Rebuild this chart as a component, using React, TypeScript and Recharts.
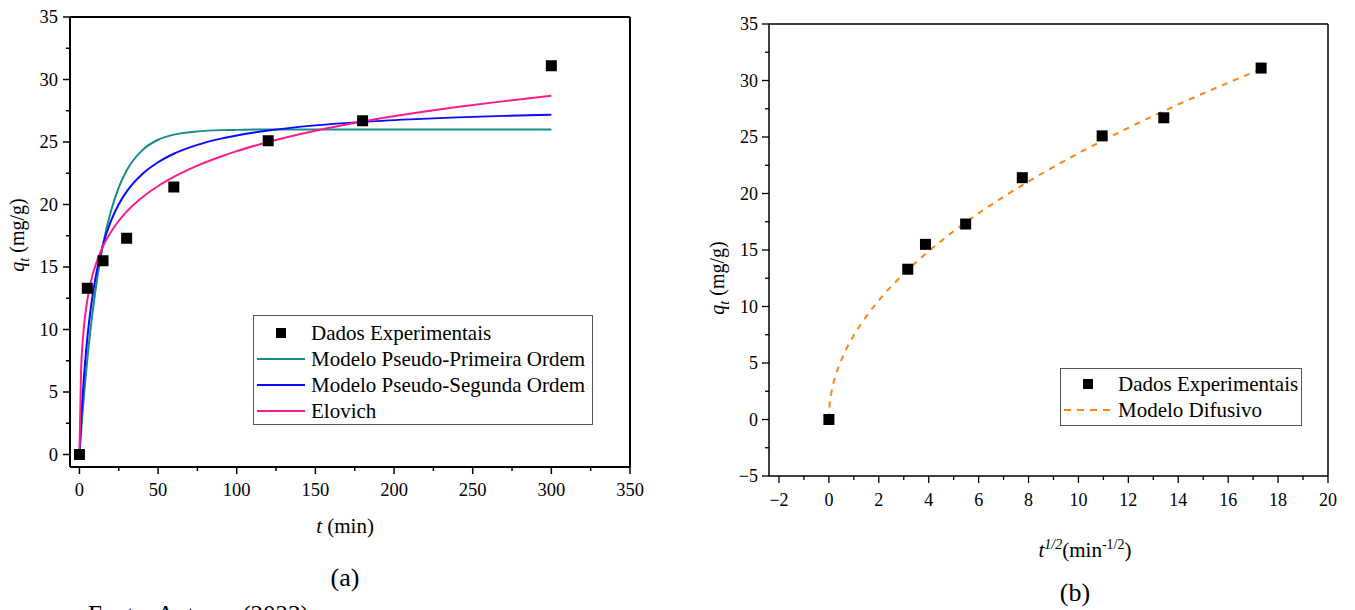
import React from 'react';
import {
  ComposedChart, Line, Scatter, XAxis, YAxis, ReferenceLine, Label
} from 'recharts';

// (a) kinetic data, t in minutes
const tMin = [0, 5, 15, 30, 60, 120, 180, 300];
const qtExp = [0, 13.3, 15.5, 17.3, 21.4, 25.1, 26.7, 31.1];

// fitted curves sampled along t
const tModel = [0, 1, 2, 3, 5, 7.5, 10, 15, 20, 25, 30, 40, 50, 60, 75, 90, 100, 120, 150, 180, 210, 240, 270, 300];
const qPseudo1 = [0, 1.73, 3.35, 4.87, 7.6, 10.5, 12.96, 16.8, 19.46, 21.37, 22.72, 24.35, 25.18, 25.59, 25.85, 25.95, 25.97, 26.0, 26.0, 26.0, 26.0, 26.0, 26.0, 26.0];
const qPseudo2 = [0, 2.53, 4.65, 6.44, 9.31, 11.98, 13.99, 16.8, 18.67, 20.02, 21.03, 22.44, 23.38, 24.06, 24.77, 25.27, 25.52, 25.92, 26.33, 26.61, 26.81, 26.97, 27.09, 27.19];
const qElovich = [0, 6.54, 8.92, 10.41, 12.35, 13.93, 15.05, 16.66, 17.8, 18.7, 19.43, 20.58, 21.48, 22.21, 23.11, 23.84, 24.27, 25.0, 25.9, 26.64, 27.26, 27.8, 28.27, 28.7];

// (b) intraparticle diffusion, t^1/2
const sqrtT = [0, 3.16, 3.87, 5.48, 7.75, 10.95, 13.42, 17.32];
const qtExpB = [0, 13.3, 15.5, 17.3, 21.4, 25.1, 26.7, 31.1];
const sqrtTModel = [0, 0.02, 0.1, 0.3, 0.6, 1, 1.5, 2, 3, 4, 5, 6, 8, 10, 12, 14, 16, 17.32];
const qDifusivo = [0, 1.05, 2.36, 4.08, 5.77, 7.45, 9.12, 10.54, 12.9, 14.9, 16.66, 18.25, 21.07, 23.56, 25.81, 27.88, 29.8, 31.0];

// axis ticks (majors get a label, the rest are minor)
const ticksXa = [0, 25, 50, 75, 100, 125, 150, 175, 200, 225, 250, 275, 300, 325, 350];
const ticksYa = [0, 2.5, 5, 7.5, 10, 12.5, 15, 17.5, 20, 22.5, 25, 27.5, 30, 32.5, 35];
const ticksXb = [-2, -1, 0, 1, 2, 3, 4, 5, 6, 7, 8, 9, 10, 11, 12, 13, 14, 15, 16, 17, 18, 19, 20];
const ticksYb = [-5, -2.5, 0, 2.5, 5, 7.5, 10, 12.5, 15, 17.5, 20, 22.5, 25, 27.5, 30, 32.5, 35];

const FONT = '"Liberation Serif", serif';
const C_PFO = '#178d87';
const C_PSO = '#0a0aff';
const C_ELO = '#ff1b8d';
const C_DIF = '#ff8410';

const toPts = (xs: number[], ys: number[]) => xs.map((t, i) => ({ t, q: ys[i] }));

const fmt = (v: number) => (v < 0 ? '\u2212' + Math.abs(v) : String(v));

const Square = (props: any) => {
  const { cx, cy } = props;
  if (cx == null || cy == null) return null;
  return <rect x={cx - 5.5} y={cy - 5.5} width={11} height={11} fill="#000" />;
};

const bottomTick = (step: number, offset: number, sw: number, fs: number) => (props: any) => {
  const { x, y, payload } = props;
  const major = Math.abs(payload.value / step - Math.round(payload.value / step)) < 1e-6;
  const len = major ? 7 : 4;
  return (
    <g>
      <line x1={x} y1={y} x2={x} y2={y + len} stroke="#000" strokeWidth={sw} />
      {major && (
        <text x={x} y={y + offset} dy="0.35em" textAnchor="middle" fontSize={fs} fontFamily={FONT} fill="#000">
          {fmt(payload.value)}
        </text>
      )}
    </g>
  );
};

const leftTick = (step: number, offset: number, sw: number, fs: number) => (props: any) => {
  const { x, y, payload } = props;
  const major = Math.abs(payload.value / step - Math.round(payload.value / step)) < 1e-6;
  const len = major ? 7 : 4;
  return (
    <g>
      <line x1={x} y1={y} x2={x - len} y2={y} stroke="#000" strokeWidth={sw} />
      {major && (
        <text x={x - offset} y={y} dy="0.35em" textAnchor="end" fontSize={fs} fontFamily={FONT} fill="#000">
          {fmt(payload.value)}
        </text>
      )}
    </g>
  );
};

const QtTitle = ({ x, y }: { x: number; y: number }) => (
  <text x={x} y={y} transform={`rotate(-90, ${x}, ${y})`} textAnchor="middle" fontSize={20} fontFamily={FONT} fill="#000">
    <tspan fontStyle="italic">q</tspan>
    <tspan fontStyle="italic" fontSize={14} dy={5}>t</tspan>
    <tspan dy={-5}> (mg/g)</tspan>
  </text>
);

const legendRow: React.CSSProperties = { display: 'flex', alignItems: 'center', height: 26, whiteSpace: 'nowrap' };

const LineSample = ({ color, dashed }: { color: string; dashed?: boolean }) => (
  <svg width={50} height={10} style={{ marginRight: 5 }}>
    <line x1={1} y1={5} x2={49} y2={5} stroke={color} strokeWidth={2} strokeDasharray={dashed ? '7 6' : undefined} />
  </svg>
);

const SquareSample = () => (
  <svg width={50} height={12} style={{ marginRight: 5 }}>
    <rect x={20} y={1} width={10} height={10} fill="#000" />
  </svg>
);

export default function App() {
  const expA = toPts(tMin, qtExp);
  const pfo = toPts(tModel, qPseudo1);
  const pso = toPts(tModel, qPseudo2);
  const elo = toPts(tModel, qElovich);
  const expB = toPts(sqrtT, qtExpB);
  const dif = toPts(sqrtTModel, qDifusivo);

  return (
    <div style={{ position: 'absolute', left: 0, top: 0, width: 1355, height: 610, overflow: 'hidden', background: '#fff', fontFamily: FONT }}>
      {/* (a) kinetic models */}
      <div style={{ position: 'absolute', left: 0, top: 0 }}>
        <ComposedChart width={660} height={610} margin={{ top: 17, right: 30, left: 30, bottom: 113 }}>
          <XAxis
            dataKey="t" type="number" domain={[-6, 350]} ticks={ticksXa} allowDataOverflow
            axisLine={{ stroke: '#000', strokeWidth: 2 }} tickLine={false} tickSize={0} tickMargin={0}
            tick={bottomTick(50, 23, 1.5, 18.5)} height={30} interval={0}
          >
            <Label content={() => (
              <text x={345} y={526} dy="0.35em" textAnchor="middle" fontSize={21} fontFamily={FONT} fill="#000">
                <tspan fontStyle="italic">t</tspan> (min)
              </text>
            )} />
          </XAxis>
          <YAxis
            dataKey="q" type="number" domain={[-1, 35]} ticks={ticksYa} allowDataOverflow
            axisLine={{ stroke: '#000', strokeWidth: 2 }} tickLine={false} tickSize={0} tickMargin={0}
            tick={leftTick(5, 12, 1.5, 18.5)} width={40} interval={0}
          >
            <Label content={() => <QtTitle x={24} y={235} />} />
          </YAxis>
          <ReferenceLine y={35} stroke="#000" strokeWidth={2} />
          <ReferenceLine x={350} stroke="#000" strokeWidth={2} />
          <Scatter data={expA} dataKey="q" shape={Square} isAnimationActive={false} />
          <Line data={pfo} dataKey="q" type="monotone" stroke={C_PFO} strokeWidth={2} dot={false} activeDot={false} isAnimationActive={false} />
          <Line data={pso} dataKey="q" type="monotone" stroke={C_PSO} strokeWidth={2} dot={false} activeDot={false} isAnimationActive={false} />
          <Line data={elo} dataKey="q" type="monotone" stroke={C_ELO} strokeWidth={2} dot={false} activeDot={false} isAnimationActive={false} />
        </ComposedChart>
        <div style={{ position: 'absolute', left: 253, top: 315, width: 340, height: 110, border: '1.5px solid #555', background: '#fff', padding: '4px 0 0 2px', boxSizing: 'border-box', fontSize: 21 }}>
          <div style={legendRow}><SquareSample />Dados Experimentais</div>
          <div style={legendRow}><LineSample color={C_PFO} />Modelo Pseudo-Primeira Ordem</div>
          <div style={legendRow}><LineSample color={C_PSO} />Modelo Pseudo-Segunda Ordem</div>
          <div style={legendRow}><LineSample color={C_ELO} />Elovich</div>
        </div>
        <div style={{ position: 'absolute', left: 345, top: 578, transform: 'translate(-50%, -50%)', fontSize: 26 }}>(a)</div>
        <div style={{ position: 'absolute', left: 88, top: 601, fontSize: 25, whiteSpace: 'nowrap' }}>Fonte: Autores (2023)</div>
      </div>

      {/* (b) diffusion model */}
      <div style={{ position: 'absolute', left: 700, top: 0 }}>
        <ComposedChart width={655} height={610} margin={{ top: 24, right: 27, left: 29, bottom: 104 }}>
          <XAxis
            dataKey="t" type="number" domain={[-2.4, 20]} ticks={ticksXb} allowDataOverflow
            axisLine={{ stroke: '#000', strokeWidth: 1.5 }} tickLine={false} tickSize={0} tickMargin={0}
            tick={bottomTick(2, 24, 1.3, 18)} height={30} interval={0}
          >
            <Label content={() => (
              <text x={385} y={550} dy="0.35em" textAnchor="middle" fontSize={21} fontFamily={FONT} fill="#000">
                <tspan fontStyle="italic">t</tspan>
                <tspan fontStyle="italic" fontSize={14} dy={-8}>1/2</tspan>
                <tspan dy={8}>(min</tspan>
                <tspan fontSize={14} dy={-8}>-1/2</tspan>
                <tspan dy={8}>)</tspan>
              </text>
            )} />
          </XAxis>
          <YAxis
            dataKey="q" type="number" domain={[-5, 35]} ticks={ticksYb} allowDataOverflow
            axisLine={{ stroke: '#000', strokeWidth: 1.5 }} tickLine={false} tickSize={0} tickMargin={0}
            tick={leftTick(5, 11, 1.3, 18)} width={40} interval={0}
          >
            <Label content={() => <QtTitle x={24} y={278} />} />
          </YAxis>
          <ReferenceLine y={35} stroke="#000" strokeWidth={1.5} />
          <ReferenceLine x={20} stroke="#000" strokeWidth={1.5} />
          <Scatter data={expB} dataKey="q" shape={Square} isAnimationActive={false} />
          <Line data={dif} dataKey="q" type="monotone" stroke={C_DIF} strokeWidth={2} strokeDasharray="6 6" dot={false} activeDot={false} isAnimationActive={false} />
        </ComposedChart>
        <div style={{ position: 'absolute', left: 360, top: 368, width: 242, height: 58, border: '1.5px solid #555', background: '#fff', padding: '2px 0 0 2px', boxSizing: 'border-box', fontSize: 21 }}>
          <div style={legendRow}><SquareSample />Dados Experimentais</div>
          <div style={legendRow}><LineSample color={C_DIF} dashed />Modelo Difusivo</div>
        </div>
        <div style={{ position: 'absolute', left: 375, top: 593, transform: 'translate(-50%, -50%)', fontSize: 26 }}>(b)</div>
      </div>
    </div>
  );
}
